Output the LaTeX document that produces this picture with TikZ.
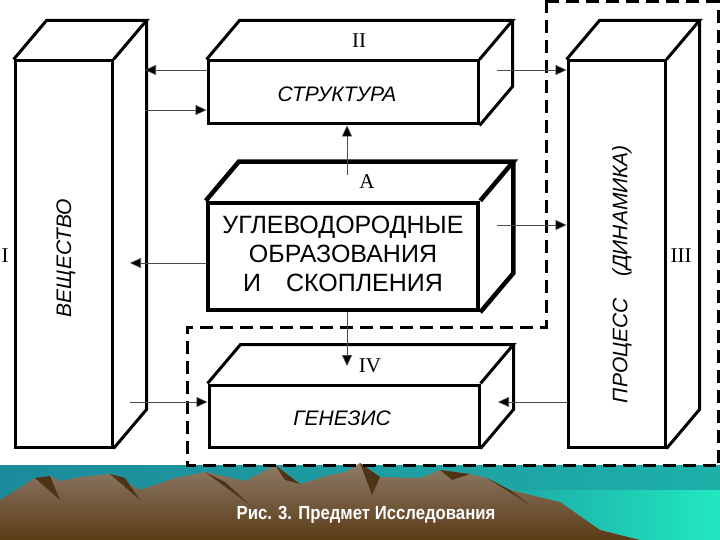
\documentclass[tikz,border=0pt]{standalone}
\usepackage{fontspec}
\setmainfont{Liberation Serif}
\newfontfamily\arialf{Liberation Sans}
\usetikzlibrary{arrows.meta}
\definecolor{mtop}{HTML}{8E7B68}
\definecolor{mbot}{HTML}{5A3B16}
\definecolor{mshadow}{HTML}{4E3416}
\definecolor{seal}{HTML}{1C8A9A}
\definecolor{seab}{HTML}{20E8C0}
\tikzset{
 box/.style={draw,line width=3pt,fill=white,inner sep=0,line join=miter},
 arr/.style={draw=black!70,line width=0.6pt,-{Triangle[length=11pt,width=10pt,fill=black]}},
 rom/.style={font=\fontsize{21}{21}\selectfont},
 lbl/.style={font=\arialf\itshape\fontsize{21}{23}\selectfont},
 dash box/.style={line width=3pt,dash pattern=on 13pt off 7pt}
}
\newcommand\deepen[2]{%
 \draw[line width=#2,line join=miter] (#1.north west) -- ++(33,-39) -- ([shift={(33,-39)}]#1.north east) -- (#1.north east)
  ([shift={(33,-39)}]#1.north east) -- ([shift={(33,-39)}]#1.south east) -- (#1.south east);}
\begin{document}
\begin{tikzpicture}[x=1pt,y=-1pt]
\useasboundingbox (0,0) rectangle (720,540);
\fill[white] (0,0) rectangle (720,540);
% bottom band
\shade[left color=seal, right color=seal!60!seab] (0,465) rectangle (720,540);
\shade[left color=seal!70!seab, right color=seab] (500,490) rectangle (720,540);
\shade[top color=mtop, bottom color=mbot] (0,500) -- (35,478) -- (50,476) -- (60,481) -- (80,477) -- (110,474) -- (140,490) -- (175,478) -- (205,472) -- (245,481) -- (275,465) -- (300,484) -- (330,475) -- (345,472) -- (360,463) -- (380,477) -- (420,478) -- (440,470) -- (470,474) -- (487,478) -- (510,490) -- (560,502) -- (600,530) -- (640,540) -- (0,540) -- cycle;
\fill[mshadow] (35,478) -- (50,476) -- (60,500) -- cycle;
\fill[mshadow] (110,474) -- (125,478) -- (140,500) -- cycle;
\fill[mshadow] (205,472) -- (225,482) -- (250,505) -- cycle;
\fill[mshadow] (275,465) -- (285,480) -- (300,484) -- cycle;
\fill[mshadow] (360,463) -- (372,495) -- (380,477) -- cycle;
\fill[mshadow] (440,470) -- (452,480) -- (470,474) -- cycle;
\fill[mshadow] (487,478) -- (510,490) -- (530,505) -- cycle;
\node[font=\arialf\bfseries\fontsize{19}{19}\selectfont,white,xscale=0.88] (cap) at (366,515) {Рис. 3. Предмет Исследования};
% dashed regions
\draw[dash box] (546,0) -- (546,327) -- (187,327) -- (187,465) -- (720,465);
\draw[dash box] (546,2) -- (718,2) -- (718,465);
% boxes
\node[box,minimum width=97pt,minimum height=386pt] (v) at (63.5,254) {};
\deepen{v}{3pt}
\node[box,minimum width=270pt,minimum height=63pt] (s) at (343,92.5) {};
\deepen{s}{3pt}
\node[box,line width=4.5pt,minimum width=270pt,minimum height=107pt] (c) at (343,256.5) {};
\deepen{c}{4.5pt}
\node[box,minimum width=270pt,minimum height=62pt] (g) at (344,416) {};
\deepen{g}{3pt}
\node[box,minimum width=97pt,minimum height=386pt] (p) at (616.5,254) {};
\deepen{p}{3pt}
% texts
\node[lbl,rotate=90] (tv) at (66,258) {ВЕЩЕСТВО};
\node[lbl] (ts) at (337,94) {СТРУКТУРА};
\node[font=\arialf\fontsize{25}{29}\selectfont,align=center] (tc) at (343,254) {УГЛЕВОДОРОДНЫЕ\\ОБРАЗОВАНИЯ\\И\quad СКОПЛЕНИЯ};
\node[lbl] (tg) at (342,418) {ГЕНЕЗИС};
\node[lbl,rotate=90] (tp) at (622,274) {ПРОЦЕСС\quad (ДИНАМИКА)};
\node[rom] (r2) at (359,41) {II};
\node[rom] (r1) at (5,256) {I};
\node[rom] (r3) at (681,256) {III};
\node[rom] (ra) at (367,182) {A};
\node[rom] (r4) at (370,366) {IV};
% arrows
\draw[arr] (s.west |- 0,70) -- (145,70);
\draw[arr] (145,110) -- (s.west |- 0,110);
\draw[arr] (497,70) -- (p.west |- 0,70);
\draw[arr] (347,175) -- (347,0 |- s.south);
\draw[arr] (c.west |- 0,263) -- (130,263);
\draw[arr] (497,225) -- (p.west |- 0,225);
\draw[arr] (347,0 |- c.south) -- (347,366);
\draw[arr] (130,402) -- (g.west |- 0,402);
\draw[arr] (p.west |- 0,402) -- (498,402);
\end{tikzpicture}
\end{document}
